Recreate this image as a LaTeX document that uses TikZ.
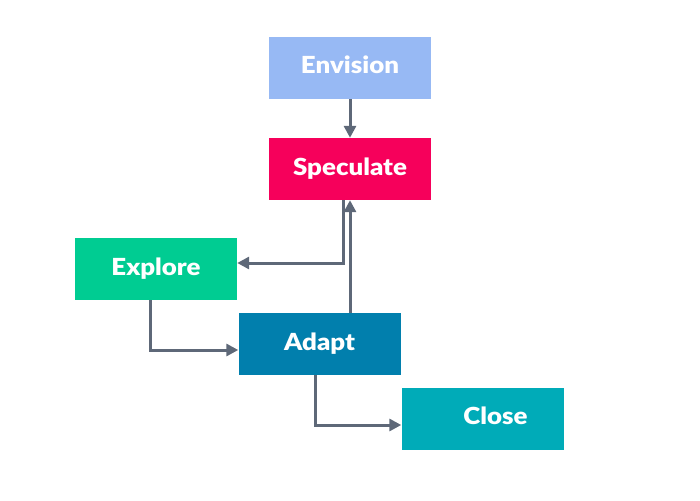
\documentclass[tikz,border=0pt]{standalone}
\usepackage{fontspec}
\setmainfont{Lato}[BoldFont={Lato Black},BoldFeatures={FakeStretch=1.1}]
\usetikzlibrary{arrows.meta}
\definecolor{cenv}{HTML}{97B9F4}
\definecolor{cspec}{HTML}{F6005B}
\definecolor{cexp}{HTML}{00CC92}
\definecolor{cada}{HTML}{017FAD}
\definecolor{cclo}{HTML}{00ABB8}
\definecolor{cline}{HTML}{5E6878}
\tikzset{
  stage/.style={minimum width=162pt, minimum height=62pt, inner sep=0pt, text height=14pt, text depth=2pt, text=white, font=\fontsize{23.5}{28}\selectfont\bfseries},
  link/.style={draw=cline, line width=3pt, -{Triangle[length=12pt,width=12pt]}},
}
\begin{document}
\begin{tikzpicture}[x=1pt,y=-1pt]
\useasboundingbox (0,0) rectangle (700,500);
\node[stage, fill=cenv] (env) at (350,68) {Envision};
\node[stage, fill=cspec] (spec) at (350,169) {Speculate};
\node[stage, fill=cexp] (exp) at (156,269) {Explore};
\node[stage, fill=cada] (ada) at (319.5,344) {Adapt};
\node[stage, fill=cclo, text width=162pt, align=center] (clo) at (482.5,418.5) {\hspace*{26pt}Close};
\coordinate (c1) at (343,263);
\coordinate (c2) at (150,350);
\coordinate (c3) at (315,425);
\draw[link] (env.south) -- (spec.north);
\draw[link] (spec.south -| c1) -- (c1) -- (exp.east |- c1);
\draw[link] (ada.north -| 350,0) -- (spec.south -| 350,0);
\draw[link] (exp.south -| c2) -- (c2) -- (ada.west |- c2);
\draw[link] (ada.south -| c3) -- (c3) -- (clo.west |- c3);
\end{tikzpicture}
\end{document}
